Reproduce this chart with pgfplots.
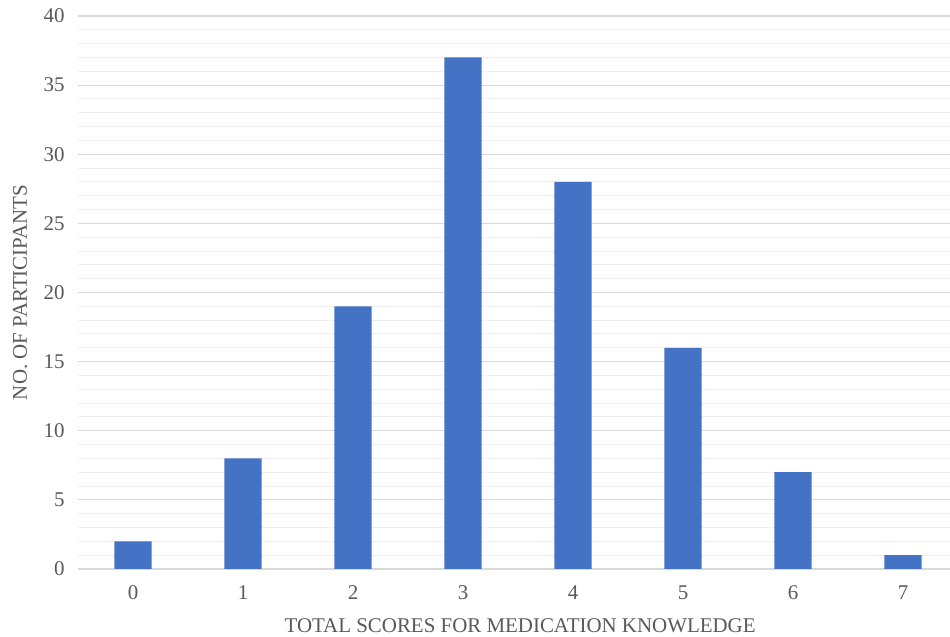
\documentclass[border=0pt]{standalone}
\usepackage{fontspec}
\setmainfont{Liberation Serif}
\usepackage{pgfplots}
\pgfplotsset{compat=1.18}
\definecolor{barblue}{HTML}{4472C4}
\definecolor{txt}{HTML}{595959}
\definecolor{majg}{HTML}{D9D9D9}
\definecolor{ming}{HTML}{EFEFEF}
\begin{document}
\begin{tikzpicture}[x=1bp,y=1bp]
\useasboundingbox (0,0) rectangle (950,637);
\begin{axis}[
  at={(78bp,68bp)}, anchor=south west,
  scale only axis, width=872bp, height=553bp,
  xmin=-0.5, xmax=7.427, ymin=0, ymax=40,
  ybar, bar width=0.34,
  bar shift=0pt,
  xtick={0,...,7},
  ytick={0,5,...,40},
  minor ytick={0,1,...,40},
  ymajorgrids, yminorgrids,
  major grid style={majg, line width=1.2pt},
  minor grid style={ming, line width=1pt},
  axis line style={draw=none},
  tick style={draw=none},
  ticklabel style={font=\fontsize{21}{24}\selectfont, text=txt},
  /pgf/number format/assume math mode=true,
  yticklabel style={xshift=-10bp},
  xticklabel style={yshift=-9bp},
  xlabel={TOTAL SCORES FOR MEDICATION KNOWLEDGE},
  ylabel={NO. OF PARTICIPANTS},
  label style={font=\fontsize{21}{24}\selectfont, text=txt},
  xlabel style={at={(rel axis cs:0.507,0)}, anchor=base, yshift=-64bp},
  ylabel style={at={(rel axis cs:-0.0665,0.5)}, anchor=center, rotate=0},
  clip=false,
]
\addplot[fill=barblue, draw=none] coordinates {
  (0,2) (1,8) (2,19) (3,37) (4,28) (5,16) (6,7) (7,1)
};
\end{axis}
\end{tikzpicture}
\end{document}
